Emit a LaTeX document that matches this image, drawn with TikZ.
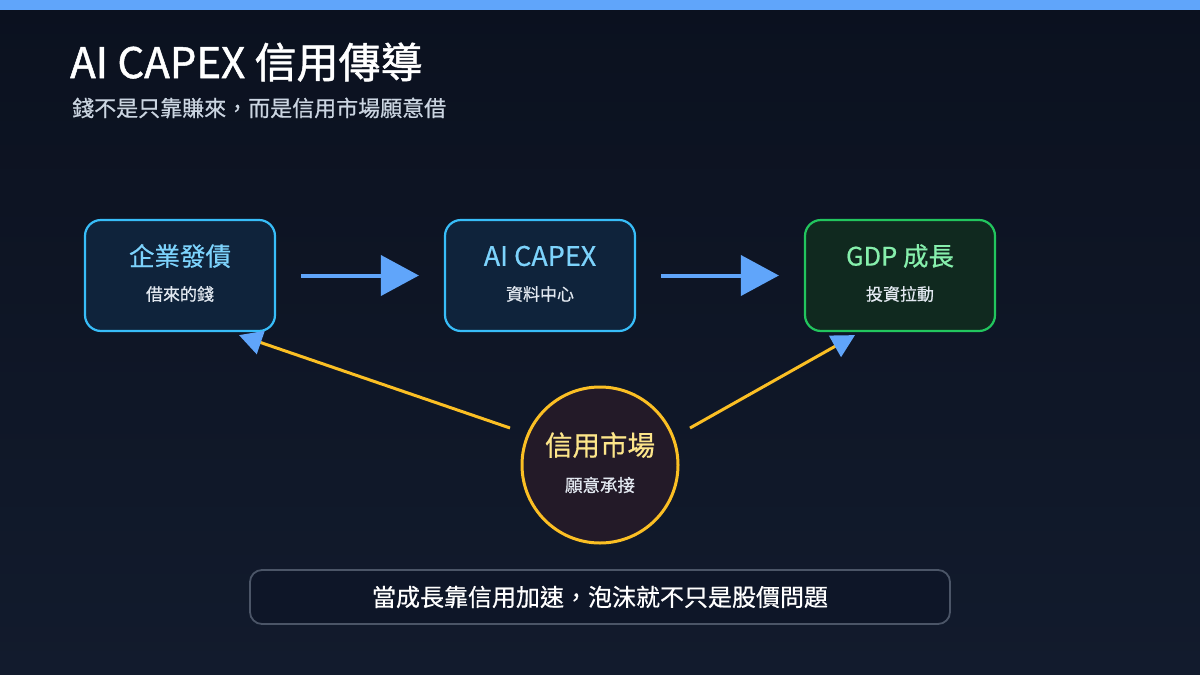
\documentclass[tikz,border=0pt]{standalone}
\usepackage{fontspec}
\setmainfont{Noto Sans CJK TC}
\newfontfamily\medfont[FakeBold=0.6]{Noto Sans CJK TC}
\newfontfamily\semifont[FakeBold=1.2]{Noto Sans CJK TC}
\usetikzlibrary{arrows.meta,calc}
\definecolor{bgtop}{HTML}{0B111F}
\definecolor{bgbot}{HTML}{121B2D}
\definecolor{barblue}{HTML}{60A5FA}
\definecolor{arrowblue}{HTML}{60A5FA}
\definecolor{skyedge}{HTML}{38BDF8}
\definecolor{skyfill}{HTML}{0F233B}
\definecolor{skytext}{HTML}{7DD3FC}
\definecolor{greenedge}{HTML}{22C55E}
\definecolor{greenfill}{HTML}{10291F}
\definecolor{greentext}{HTML}{86EFAC}
\definecolor{yedge}{HTML}{FBBF24}
\definecolor{yfill}{HTML}{231A28}
\definecolor{ytext}{HTML}{FDE68A}
\definecolor{subtext}{HTML}{E2E8F0}
\definecolor{subtitle}{HTML}{CBD5E1}
\definecolor{noteedge}{HTML}{4B5567}
\definecolor{notefill}{HTML}{0E1628}
\begin{document}
\begin{tikzpicture}[x=1pt,y=-1pt,
  box/.style={draw, line width=2.2pt, rounded corners=16pt, minimum width=190pt, minimum height=111pt, inner sep=0pt},
  bluebox/.style={box, draw=skyedge, fill=skyfill},
  greenbox/.style={box, draw=greenedge, fill=greenfill},
  headtext/.style={inner sep=0pt, font=\medfont\fontsize{25.5}{30}\selectfont},
  subtxt/.style={inner sep=0pt, text=subtext, font=\medfont\fontsize{17}{20}\selectfont},
  flow/.style={draw=arrowblue, line width=4pt, -{Triangle[length=38pt,width=40pt]}},
  credit/.style={draw=yedge, line width=3pt, -{Triangle[length=23pt,width=24pt,color=arrowblue,fill=arrowblue]}}
]
\useasboundingbox (0,0) rectangle (1200,675);
\shade[top color=bgtop, bottom color=bgbot] (0,0) rectangle (1200,675);
\fill[barblue] (0,0) rectangle (1200,10);

\node[anchor=base west, inner sep=0pt, text=white, font=\semifont\fontsize{42}{50}\selectfont] (title) at (70,78) {AI CAPEX 信用傳導};
\node[anchor=west, inner sep=0pt, text=subtitle, font=\medfont\fontsize{22}{26}\selectfont] (subt) at (72,108) {錢不是只靠賺來，而是信用市場願意借};

\node[bluebox] (box1) at (180,275.5) {};
\node[bluebox] (box2) at (540,275.5) {};
\node[greenbox] (box3) at (900,275.5) {};

\node[headtext, text=skytext] (h1) at ($(box1.center)+(0,-19.5)$) {企業發債};
\node[subtxt] (s1t) at ($(box1.center)+(0,18.5)$) {借來的錢};
\node[headtext, text=skytext, font=\medfont\fontsize{27}{30}\selectfont] (h2) at ($(box2.center)+(0,-19.5)$) {AI CAPEX};
\node[subtxt] (s2t) at ($(box2.center)+(0,18.5)$) {資料中心};
\node[headtext, text=greentext] (h3) at ($(box3.center)+(0,-19.5)$) {GDP 成長};
\node[subtxt] (s3t) at ($(box3.center)+(0,18.5)$) {投資拉動};

\draw[flow, shorten <=25pt, shorten >=25pt] (box1.east) -- (box2.west);
\draw[flow, shorten <=25pt, shorten >=25pt] (box2.east) -- (box3.west);

\node[circle, draw=yedge, fill=yfill, line width=3pt, minimum size=156pt, inner sep=0pt] (circ) at (600,465) {};
\node[headtext, text=ytext, font=\medfont\fontsize{27.5}{32}\selectfont] (hc) at ($(circ.center)+(0,-20)$) {信用市場};
\node[subtxt, font=\medfont\fontsize{17.5}{20}\selectfont] (sc) at ($(circ.center)+(0,20)$) {願意承接};

\coordinate (c1) at ($(circ.center)+(-90,-37)$);
\coordinate (t1) at ($(box1.south)+(59,3)$);
\coordinate (c2) at ($(circ.center)+(90,-37)$);
\coordinate (t2) at ($(box3.south)+(-45,3)$);
\draw[credit] (c1) -- (t1);
\draw[credit] (c2) -- (t2);

\node[draw=noteedge, fill=notefill, line width=1.8pt, rounded corners=12pt, minimum width=700pt, minimum height=54pt, inner sep=0pt] (note) at (600,597) {};
\node[inner sep=0pt, text=white, font=\medfont\fontsize{24}{28}\selectfont] (notet) at (note.center) {當成長靠信用加速，泡沫就不只是股價問題};
\end{tikzpicture}
\end{document}
